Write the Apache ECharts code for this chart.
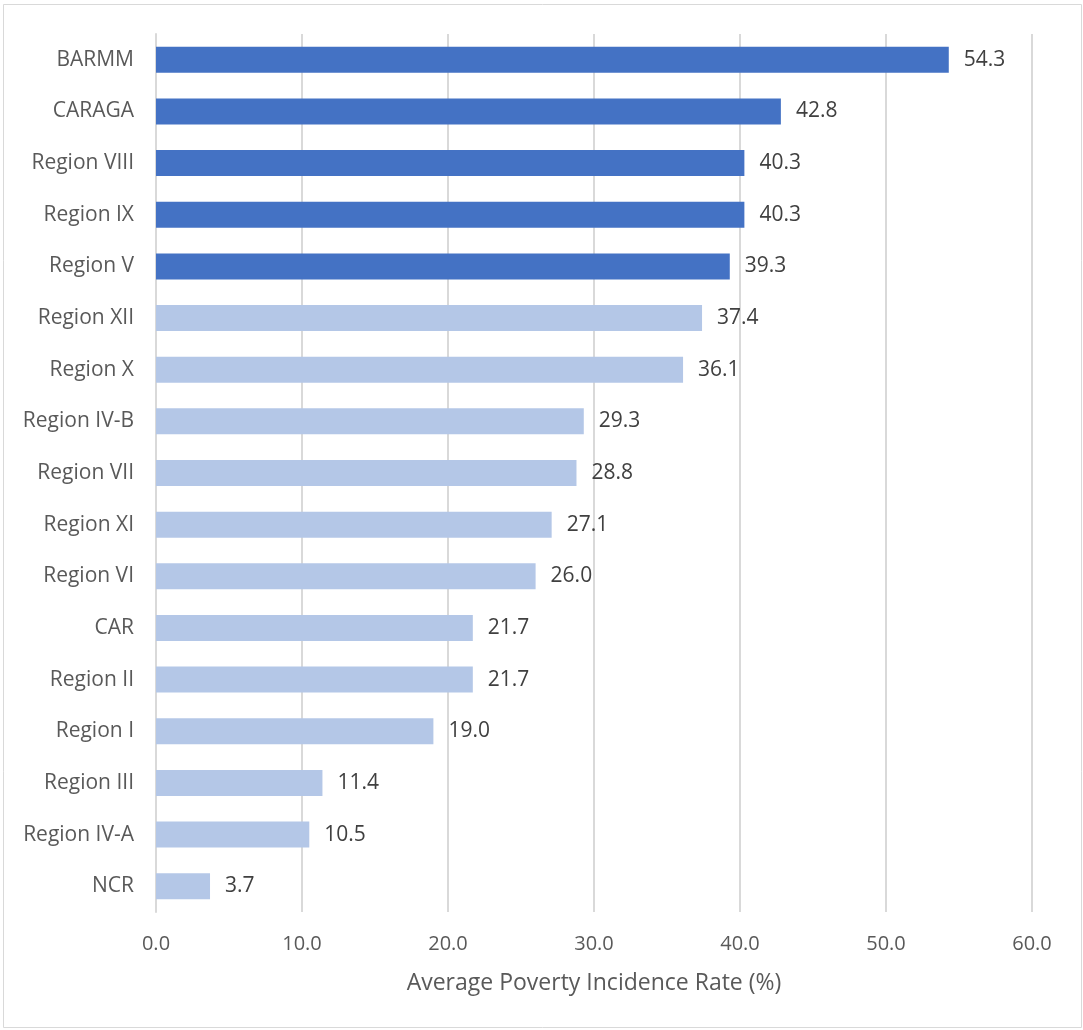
<!DOCTYPE html>
<html>
<head>
<meta charset="utf-8">
<script src="https://cdn.jsdelivr.net/npm/echarts@6/dist/echarts.min.js"></script>
<style>
html,body{margin:0;padding:0;background:#fff;}
#chart{width:1083px;height:1030px;}
</style>
</head>
<body>
<div id="chart"></div>
<script>
const categories = ["BARMM","CARAGA","Region VIII","Region IX","Region V","Region XII","Region X","Region IV-B","Region VII","Region XI","Region VI","CAR","Region II","Region I","Region III","Region IV-A","NCR"];
const values = [54.3,42.8,40.3,40.3,39.3,37.4,36.1,29.3,28.8,27.1,26.0,21.7,21.7,19.0,11.4,10.5,3.7];
const highlighted = ["BARMM","CARAGA","Region VIII","Region IX","Region V"];
const xTicks = [0,10,20,30,40,50,60];
const axisTitle = "Average Poverty Incidence Rate (%)";

const FONT = "Open Sans";
const chart = echarts.init(document.getElementById('chart'), null, {renderer:'canvas'});
chart.setOption({
  backgroundColor:'#fff',
  animation:false,
  graphic:[{type:'rect',shape:{x:3.5,y:4.5,width:1078,height:1023},style:{fill:'none',stroke:'#d9d9d9',lineWidth:1}}],
  grid:{left:156,right:51,top:34,bottom:118,containLabel:false},
  xAxis:{
    type:'value',min:xTicks[0],max:xTicks[xTicks.length-1],interval:10,
    axisLine:{show:false},axisTick:{show:false},
    splitLine:{show:true,lineStyle:{color:'#d9d9d9',width:2}},
    axisLabel:{color:'#595959',fontFamily:FONT,fontSize:20,margin:22,formatter:v=>v.toFixed(1)},
    name:axisTitle,nameLocation:'middle',nameGap:60,
    nameTextStyle:{color:'#595959',fontFamily:FONT,fontSize:23}
  },
  yAxis:{
    type:'category',data:categories,inverse:true,
    axisLine:{show:true,lineStyle:{color:'#d9d9d9',width:2}},
    axisTick:{show:false},
    axisLabel:{color:'#595959',fontFamily:FONT,fontSize:21,margin:22}
  },
  series:[{
    type:'bar',
    data:values.map((v,i)=>({value:v,itemStyle:{color:highlighted.includes(categories[i])?'#4472C4':'#B4C7E7'}})),
    barWidth:26,
    label:{show:true,position:'right',distance:15,color:'#404040',fontFamily:FONT,fontSize:21,formatter:p=>p.value.toFixed(1)}
  }]
});
</script>
</body>
</html>
